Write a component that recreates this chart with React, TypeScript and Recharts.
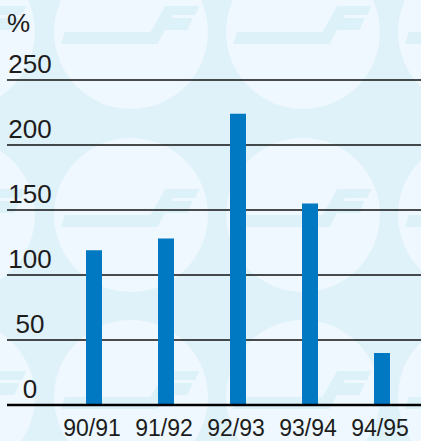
import React from 'react'
import { BarChart, Bar, XAxis, YAxis, CartesianGrid } from 'recharts'

const seasons = ['90/91', '91/92', '92/93', '93/94', '94/95']
const percentValues = [119, 128, 224, 155, 40]
const yTicks = [0, 50, 100, 150, 200, 250]

const data = seasons.map((season, i) => ({ season, value: percentValues[i] }))

const FONT = '"Liberation Sans", Arial, Helvetica, sans-serif'
const BAR_BLUE = '#0079c2'
const TEXT = '#1c1c1c'

// watermark positions for the background logo pattern (decoration only)
const circleCols = [-42, 131, 303, 475]
const circleRows = [32, 215, 397]

function Logo({ cx, cy }: { cx: number; cy: number }) {
  const p = (pts: number[][]) => pts.map(([x, y]) => `${cx + x},${cy + y}`).join(' ')
  return (
    <g fill="#ddf1f9">
      <polygon points={p([[-66, 0], [19.5, 0], [34.5, -26], [46.5, -26], [26.5, 12], [-70, 12]])} />
      <polygon points={p([[34.5, -26], [68.5, -26], [64, -17], [29.5, -17]])} />
      <polygon points={p([[28, -14], [61.5, -14], [56.5, -2], [22, -2]])} />
    </g>
  )
}

function YTick(props: any) {
  const { y, payload } = props
  return (
    <text x={30} y={y - 7} textAnchor="middle" fontSize={26} fontFamily={FONT} fill={TEXT}>
      {payload.value}
    </text>
  )
}

function XTick(props: any) {
  const { x, y, payload } = props
  return (
    <text x={x - 2} y={y + 31} textAnchor="middle" fontSize={23} fontFamily={FONT} fill={TEXT}>
      {payload.value}
    </text>
  )
}

export default function App() {
  return (
    <div style={{ position: 'absolute', left: 0, top: 0, width: 421, height: 441, overflow: 'hidden', background: '#dff1f9' }}>
      <svg width={421} height={441} style={{ position: 'absolute', left: 0, top: 0 }}>
        {circleRows.map((cy) =>
          circleCols.map((cx) => (
            <g key={`${cx}-${cy}`}>
              <circle cx={cx} cy={cy} r={77} fill="#eef8fe" />
              <Logo cx={cx} cy={cy} />
            </g>
          ))
        )}
        <text x={7} y={32} fontSize={26} fontFamily={FONT} fill={TEXT}>
          %
        </text>
      </svg>
      <div style={{ position: 'absolute', left: 0, top: 0 }}>
        <BarChart
          width={421}
          height={441}
          data={data}
          margin={{ top: 80, right: 0, bottom: 0, left: 0 }}
        >
          <CartesianGrid horizontal vertical={false} stroke="#111" strokeWidth={1.5} />
          <XAxis
            dataKey="season"
            height={36}
            padding={{ left: 51, right: 3 }}
            tickLine={false}
            tickSize={0}
            tickMargin={0}
            axisLine={{ stroke: '#000', strokeWidth: 2.5 }}
            tick={<XTick />}
            interval={0}
          />
          <YAxis
            width={7}
            domain={[0, 250]}
            ticks={yTicks}
            axisLine={false}
            tickLine={false}
            tick={<YTick />}
          />
          <Bar dataKey="value" fill={BAR_BLUE} barSize={16} isAnimationActive={false} />
        </BarChart>
      </div>
    </div>
  )
}
